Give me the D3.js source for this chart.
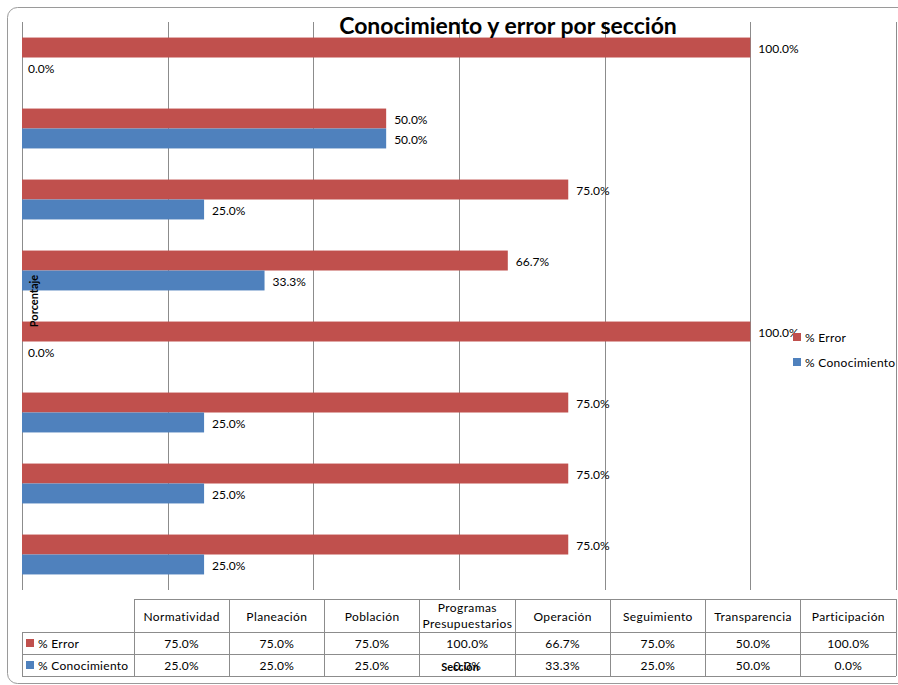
<!DOCTYPE html>
<html>
<head>
<meta charset="utf-8">
<script src="https://cdn.jsdelivr.net/npm/d3@7"></script>
<style>
  body { margin: 0; background: #fff; }
  text { font-family: Lato, "Open Sans", sans-serif; }
</style>
</head>
<body>
<div id="chart"></div>
<script>
// data
const categories = ['Normatividad', 'Planeación', 'Población', 'Programas Presupuestarios',
  'Operación', 'Seguimiento', 'Transparencia', 'Participación'];
const errorValues = [75, 75, 75, 100, 66.7, 75, 50, 100];
const conocValues = [25, 25, 25, 0, 33.3, 25, 50, 0];
const seriesNames = ['% Error', '% Conocimiento'];
const seriesColors = ['#C0504D', '#4F81BD'];
const xTicks = [0, 20, 40, 60, 80, 100, 120];

let width = 898,
    height = 685,
    plotLeft = 22, plotRight = 896, plotTop = 22, plotBottom = 590;

const fmt = d => d.toFixed(1) + '%';

let svg = d3.select('#chart')
  .append('svg')
  .attr('xmlns', 'http://www.w3.org/2000/svg')
  .attr('width', width)
  .attr('height', height);

svg.append('rect').attr('width', width).attr('height', height).attr('fill', '#fff');

// chart frame (rounded, runs off the right edge)
svg.append('rect')
  .attr('x', 7.5).attr('y', 7.5)
  .attr('width', 910).attr('height', 676)
  .attr('rx', 10)
  .attr('fill', '#fff')
  .attr('stroke', '#9a9a9a')
  .attr('stroke-width', 1);

let x = d3.scaleLinear().domain([0, 120]).range([plotLeft, plotRight]);

// top to bottom the categories go in reverse order
let y = d3.scaleBand()
  .domain(categories.slice().reverse())
  .range([plotTop, plotBottom]);

let sub = d3.scaleBand()
  .domain(seriesNames)
  .range([0, y.bandwidth()])
  .paddingOuter(0.78);

// vertical gridlines
let grid = svg.append('g')
  .attr('transform', 'translate(0,' + plotTop + ')')
  .call(d3.axisTop(x).tickValues(xTicks).tickSize(-(plotBottom - plotTop)).tickFormat(''));
grid.select('.domain').remove();
grid.selectAll('line').attr('stroke', '#8c8c8c').attr('shape-rendering', 'crispEdges');

let rows = categories.map((c, i) => ({ cat: c, vals: [errorValues[i], conocValues[i]] }));

let groups = svg.selectAll('.cat')
  .data(rows)
  .enter().append('g')
  .attr('class', 'cat')
  .attr('transform', d => 'translate(0,' + y(d.cat) + ')');

let bars = groups.selectAll('g.bar')
  .data(d => d.vals.map((v, j) => ({ key: seriesNames[j], value: v, color: seriesColors[j] })))
  .enter().append('g').attr('class', 'bar');

bars.append('rect')
  .attr('x', x(0))
  .attr('y', d => sub(d.key))
  .attr('width', d => x(d.value) - x(0))
  .attr('height', sub.bandwidth())
  .attr('fill', d => d.color);

bars.append('text')
  .attr('x', d => x(d.value) + (d.value > 0 ? 8 : 6))
  .attr('y', d => sub(d.key) + sub.bandwidth() / 2 + 1)
  .attr('dy', '0.35em')
  .attr('font-size', 12)
  .attr('fill', '#000')
  .text(d => fmt(d.value));

// title
svg.append('text')
  .attr('x', 508).attr('y', 34)
  .attr('text-anchor', 'middle')
  .attr('font-size', 23)
  .attr('font-weight', 'bold')
  .text('Conocimiento y error por sección');

// y axis title
svg.append('text')
  .attr('transform', 'translate(38,301) rotate(-90)')
  .attr('text-anchor', 'middle')
  .attr('font-size', 11)
  .attr('font-weight', 'bold')
  .text('Porcentaje');

// legend
let legend = svg.append('g').attr('transform', 'translate(793,337)');
seriesNames.forEach((s, j) => {
  legend.append('rect')
    .attr('x', 0).attr('y', j * 25 - 4)
    .attr('width', 8).attr('height', 8)
    .attr('fill', seriesColors[j]);
  legend.append('text')
    .attr('x', 12).attr('y', j * 25 + 1)
    .attr('dy', '0.35em')
    .attr('font-size', 12)
    .attr('letter-spacing', 0.3)
    .text(s);
});

// data table
let tableLeft = 22, headTop = 599, rowH = [33, 22, 22];
let col = d3.scaleBand().domain(categories).range([134, 896]);
let tbl = svg.append('g');
let rowTop = [headTop, headTop + rowH[0], headTop + rowH[0] + rowH[1], headTop + rowH[0] + rowH[1] + rowH[2]];

const lineStyle = sel => sel.attr('stroke', '#8c8c8c').attr('shape-rendering', 'crispEdges');

// horizontal rules
tbl.append('line').attr('x1', 134).attr('x2', 896).attr('y1', rowTop[0]).attr('y2', rowTop[0]).call(lineStyle);
[1, 2, 3].forEach(r => {
  tbl.append('line').attr('x1', tableLeft).attr('x2', 896).attr('y1', rowTop[r]).attr('y2', rowTop[r]).call(lineStyle);
});
// vertical rules
tbl.append('line').attr('x1', tableLeft).attr('x2', tableLeft).attr('y1', rowTop[1]).attr('y2', rowTop[3]).call(lineStyle);
categories.forEach(c => {
  tbl.append('line').attr('x1', col(c)).attr('x2', col(c)).attr('y1', rowTop[0]).attr('y2', rowTop[3]).call(lineStyle);
});
tbl.append('line').attr('x1', 896).attr('x2', 896).attr('y1', rowTop[0]).attr('y2', rowTop[3]).call(lineStyle);

// header texts
categories.forEach(c => {
  let words = c.split(' ');
  let cx = col(c) + col.bandwidth() / 2;
  let t = tbl.append('text')
    .attr('text-anchor', 'middle')
    .attr('font-size', 12)
    .attr('letter-spacing', 0.4);
  if (words.length > 1) {
    t.append('tspan').attr('x', cx).attr('y', 612).text(words[0]);
    t.append('tspan').attr('x', cx).attr('y', 628).text(words[1]);
  } else {
    t.attr('x', cx).attr('y', 621).text(c);
  }
});

// value rows
[errorValues, conocValues].forEach((vals, j) => {
  let cy = rowTop[j + 1] + 11;
  tbl.append('rect')
    .attr('x', 26).attr('y', cy - 4)
    .attr('width', 8).attr('height', 8)
    .attr('fill', seriesColors[j]);
  tbl.append('text')
    .attr('x', 38).attr('y', cy + 1).attr('dy', '0.35em')
    .attr('font-size', 12)
    .attr('letter-spacing', 0.3)
    .text(seriesNames[j]);
  vals.forEach((v, i) => {
    tbl.append('text')
      .attr('x', col(categories[i]) + col.bandwidth() / 2)
      .attr('y', cy + 1).attr('dy', '0.35em')
      .attr('text-anchor', 'middle')
      .attr('font-size', 12)
      .attr('letter-spacing', 0.3)
      .text(fmt(v));
  });
});

// x axis title, drawn over the table like in the original
svg.append('text')
  .attr('x', 460).attr('y', 667)
  .attr('dy', '0.35em')
  .attr('text-anchor', 'middle')
  .attr('font-size', 11)
  .attr('font-weight', 'bold')
  .text('Sección');
</script>
</body>
</html>
